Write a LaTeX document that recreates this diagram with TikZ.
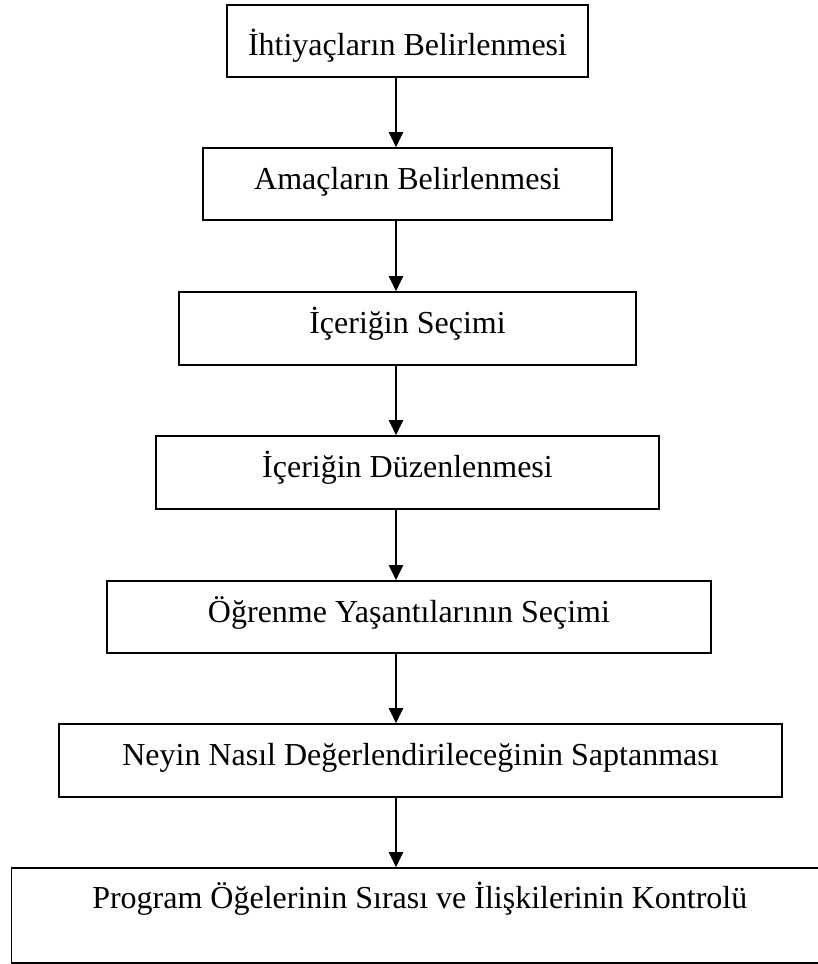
\documentclass[tikz,border=0pt]{standalone}
\usepackage{fontspec}
\setmainfont{Liberation Serif}
\usetikzlibrary{arrows.meta}
\begin{document}
\begin{tikzpicture}[x=1pt,y=-1pt,
  box/.style={draw=black, line width=1.6pt, rectangle, inner sep=0pt,
    font=\fontsize{32}{38}\selectfont, text depth=8pt, text height=18pt},
  arr/.style={line width=2.3pt, -{Triangle[width=14pt,length=15pt]}}]
\useasboundingbox (0,0) rectangle (818,964);
\fill[white] (0,0) rectangle (818,964);
\node[box, minimum width=361pt, minimum height=72pt, text height=36pt] (b1) at (407.5,41) {İhtiyaçların Belirlenmesi};
\node[box, minimum width=409pt, minimum height=72pt] (b2) at (407.5,184) {Amaçların Belirlenmesi};
\node[box, minimum width=457pt, minimum height=73pt] (b3) at (407.5,328.5) {İçeriğin Seçimi};
\node[box, minimum width=503pt, minimum height=73pt] (b4) at (407.5,472.5) {İçeriğin Düzenlenmesi};
\node[box, minimum width=604pt, minimum height=72pt] (b5) at (409,617) {Öğrenme Yaşantılarının Seçimi};
\node[box, minimum width=723pt, minimum height=73pt] (b6) at (420.5,760.5) {Neyin Nasıl Değerlendirileceğinin Saptanması};
\node[box, minimum width=816.5pt, minimum height=95pt, text height=8pt, text depth=23pt] (b7) at (419.75,915.5) {Program Öğelerinin Sırası ve İlişkilerinin Kontrolü};
\coordinate (ax) at (396,0);
\draw[arr] (b1.south -| ax) -- (b2.north -| ax);
\draw[arr] (b2.south -| ax) -- (b3.north -| ax);
\draw[arr] (b3.south -| ax) -- (b4.north -| ax);
\draw[arr] (b4.south -| ax) -- (b5.north -| ax);
\draw[arr] (b5.south -| ax) -- (b6.north -| ax);
\draw[arr] (b6.south -| ax) -- (b7.north -| ax);
\end{tikzpicture}
\end{document}
